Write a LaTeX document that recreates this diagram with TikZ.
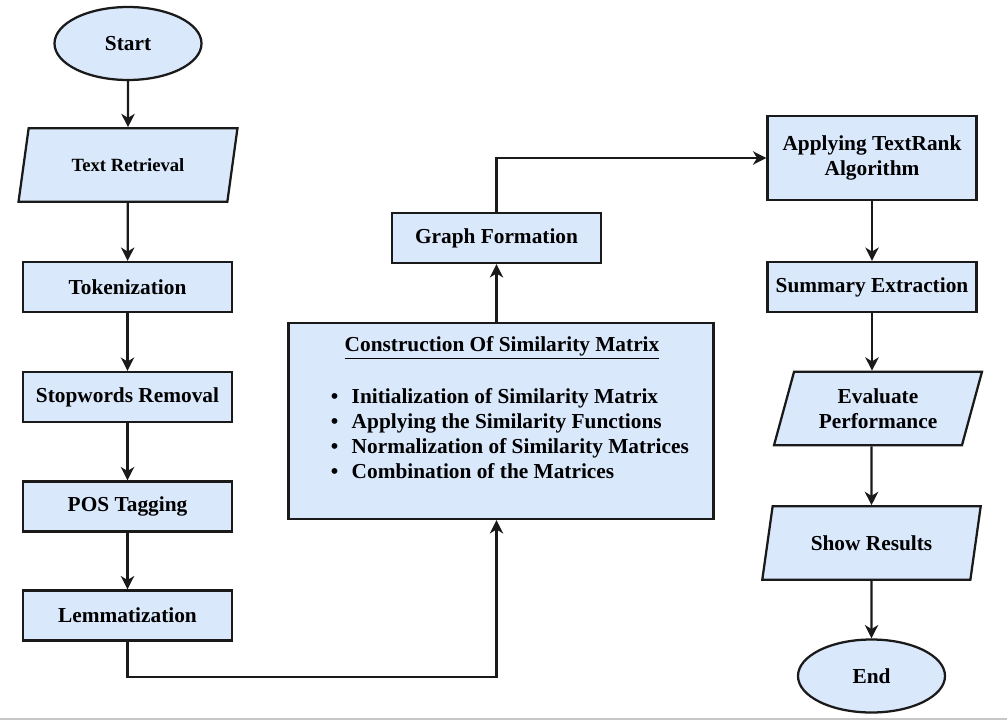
\documentclass[tikz,border=0pt]{standalone}
\usepackage{fontspec}
\setmainfont{Liberation Serif}
\usepackage{tikz}
\usetikzlibrary{shapes.geometric,arrows.meta}
\definecolor{boxfill}{HTML}{DAE8FC}
\definecolor{linec}{HTML}{1A1A1A}

\begin{document}
\begin{tikzpicture}
[
x=0.75pt, y=-0.75pt,
every node/.style={font=\bfseries\fontsize{16}{18.75}\selectfont, text=black, inner sep=2pt},
proc/.style={rectangle, draw=linec, fill=boxfill, line width=1.7pt, minimum width=156.75pt, minimum height=37.5pt},
term/.style={ellipse, draw=linec, fill=boxfill, line width=1.7pt, minimum width=110.25pt, minimum height=54.75pt},
io/.style={trapezium, trapezium left angle=72, trapezium right angle=108, trapezium stretches=true,
	draw=linec, fill=boxfill, line width=1.7pt, minimum height=55pt, align=center},
arr/.style={draw=linec, line width=1.7pt, -{Stealth[length=10pt, width=10pt, inset=3pt]}}
]
\useasboundingbox (0,0) rectangle (1007,721);
\draw[black!22, line width=1.5pt] (0,719) -- (1007,719);

% left column
\node[term] (start) at (128,43.5) {Start};
\node[io, minimum width=165pt, font=\bfseries\fontsize{14}{17}\selectfont] (textret) at (128,165) {Text Retrieval};
\node[proc] (token) at (127.5,287) {Tokenization};
\node[proc] (stopw) at (127.5,397) {Stopwords Removal};
\node[proc] (postag) at (127.5,506.5) {POS Tagging};
\node[proc] (lemma) at (127.5,615.5) {Lemmatization};

% middle
\node[proc, minimum width=318.75pt, minimum height=147pt] (simmat) at (501,421) {};
\node (simtitle) at (502,348) {\underline{Construction Of Similarity Matrix}};
\node[anchor=west, align=left] (simlist) at (328,434)
	{\textbullet\hspace{10pt}Initialization of Similarity Matrix\\
	 \textbullet\hspace{10pt}Applying the Similarity Functions\\
	 \textbullet\hspace{10pt}Normalization of Similarity Matrices\\
	 \textbullet\hspace{10pt}Combination of the Matrices};
\node[proc] (graph) at (496.5,238) {Graph Formation};

% right column
\node[proc, minimum height=63pt, align=center] (textrank) at (872,158) {Applying TextRank\\Algorithm};
\node[proc] (summary) at (872,287) {Summary Extraction};
\node[io, minimum width=156pt] (evalp) at (878,408.5) {Evaluate\\Performance};
\node[io, minimum width=164pt] (showres) at (871.5,543) {Show Results};
\node[term] (stop) at (871.5,676) {End};

\coordinate (bend) at (300,677);

\draw[arr] (start) -- (textret);
\draw[arr] (textret) -- (token);
\draw[arr] (token) -- (stopw);
\draw[arr] (stopw) -- (postag);
\draw[arr] (postag) -- (lemma);
\draw[arr] (lemma.south) |- (bend) -| (simmat.south -| graph);
\draw[arr] (simmat.north -| graph) -- (graph);
\draw[arr] (graph) |- (textrank);
\draw[arr] (textrank) -- (summary);
\draw[arr] (summary) -- (summary |- evalp.north);
\draw[arr] (evalp.south -| showres) -- (showres);
\draw[arr] (showres) -- (stop);
\end{tikzpicture}
\end{document}
